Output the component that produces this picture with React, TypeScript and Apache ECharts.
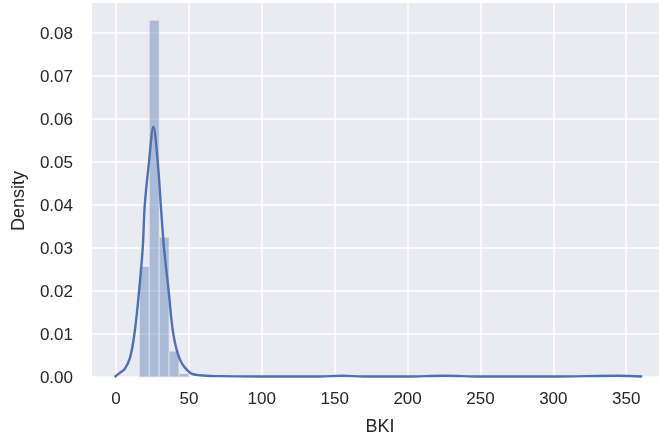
import React, { useEffect, useRef } from "react";
import * as echarts from "echarts";

// Histogram bins (left/right edges) and their densities
const binStart = [16, 22.8, 29.6, 36.4, 43.2, 152.0, 220.0, 342.4];
const binEnd = [22.8, 29.6, 36.4, 43.2, 50.0, 158.8, 226.8, 349.2];
const binDensity = [0.0257, 0.083, 0.0325, 0.006, 0.0008, 0.00025, 0.00025, 0.00025];

// Kernel density estimate, sampled along BKI
const kdeX = [-1, 2.7, 6, 9.6, 12.6, 15.8, 18.3, 19.7, 22.6, 25.6, 28.6, 30.7, 32.9, 36.1, 39.3, 43.9, 50.8, 57.6, 70, 100, 140, 155, 170, 200, 225, 250, 300, 345, 361];
const kdeY = [0, 0.001, 0.0019, 0.0045, 0.01, 0.02, 0.03, 0.04, 0.05, 0.0582, 0.05, 0.04, 0.03, 0.02, 0.01, 0.004, 0.001, 0.0004, 0.0002, 0.0001, 0.0001, 0.0003, 0.0001, 0.0001, 0.0003, 0.0001, 0.0001, 0.0003, 0.0001];

// Axis ticks
const xTicks = [0, 50, 100, 150, 200, 250, 300, 350];
const yTicks = [0, 0.01, 0.02, 0.03, 0.04, 0.05, 0.06, 0.07, 0.08];

const BLUE = "#4C72B0";
const TEXT = "#262626";
const FONT = "'Liberation Sans', Arial, sans-serif";

export default function App() {
  const ref = useRef<HTMLDivElement>(null);

  useEffect(() => {
    if (!ref.current) return;
    const chart = echarts.init(ref.current, undefined, { renderer: "svg" });

    const bars = binStart.map((s, i) => [s, binEnd[i], binDensity[i]]);
    const kde = kdeX.map((x, i) => [x, kdeY[i]]);

    chart.setOption({
      animation: false,
      grid: {
        left: 92,
        right: 0,
        top: 3,
        bottom: 62,
        show: true,
        backgroundColor: "#EAEAF2",
        borderWidth: 0,
        containLabel: false,
        outerBoundsMode: "none",
      },
      xAxis: {
        type: "value",
        min: -16.5,
        max: 372.5,
        name: "BKI",
        nameLocation: "middle",
        nameGap: 40,
        nameTextStyle: {
          color: TEXT,
          fontSize: 18,
          fontFamily: FONT,
          padding: [0, 0, 0, 9],
        },
        axisLine: { show: false },
        axisTick: { show: false, customValues: xTicks },
        axisLabel: {
          customValues: xTicks,
          color: TEXT,
          fontSize: 17,
          fontFamily: FONT,
          margin: 13,
        },
        splitLine: { show: true, lineStyle: { color: "#ffffff", width: 1.5 } },
      },
      yAxis: {
        type: "value",
        min: 0,
        max: 0.087,
        name: "Density",
        nameLocation: "middle",
        nameGap: 65,
        nameTextStyle: {
          color: TEXT,
          fontSize: 18,
          fontFamily: FONT,
          padding: [0, 22, 0, 0],
        },
        axisLine: { show: false },
        axisTick: { show: false, customValues: yTicks },
        axisLabel: {
          customValues: yTicks,
          color: TEXT,
          fontSize: 17,
          fontFamily: FONT,
          margin: 19,
          formatter: (v: number) => v.toFixed(2),
        },
        splitLine: { show: true, lineStyle: { color: "#ffffff", width: 1.5 } },
      },
      series: [
        {
          type: "custom",
          data: bars,
          renderItem: (_params: any, api: any) => {
            const p0 = api.coord([api.value(0), api.value(2)]);
            const p1 = api.coord([api.value(1), 0]);
            return {
              type: "rect",
              shape: { x: p0[0], y: p0[1], width: p1[0] - p0[0], height: p1[1] - p0[1] },
              style: {
                fill: "rgba(76,114,176,0.4)",
                stroke: "rgba(234,234,242,0.7)",
                lineWidth: 1,
              },
            };
          },
          z: 2,
        },
        {
          type: "line",
          data: kde,
          smooth: 0.35,
          showSymbol: false,
          lineStyle: { color: BLUE, width: 2.4 },
          z: 3,
        },
      ],
    });

    return () => chart.dispose();
  }, []);

  return (
    <div
      ref={ref}
      style={{ position: "fixed", left: 0, top: 0, width: 659, height: 439 }}
    />
  );
}
